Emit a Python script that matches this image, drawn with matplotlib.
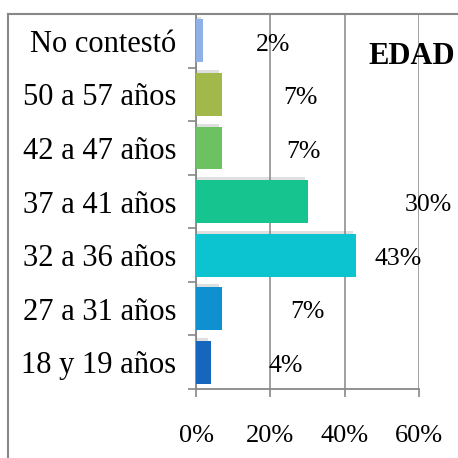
import numpy as np
import matplotlib.pyplot as plt
from matplotlib.lines import Line2D
import matplotlib.patheffects as pe

plt.rcParams['font.family'] = ['Liberation Serif', 'DejaVu Serif']

# Datos
categorias = ['18 y 19 años', '27 a 31 años', '32 a 36 años', '37 a 41 años',
              '42 a 47 años', '50 a 57 años', 'No contestó']
valores = [4, 7, 43, 30, 7, 7, 2]
etiquetas = ['4%', '7%', '43%', '30%', '7%', '7%', '2%']
# posicion de las etiquetas (en % del eje)
pos_etiqueta = [24, 30, 54.3, 62.4, 29, 28, 20.8]
colores = ['#1766be', '#0f90d0', '#0cc4d0', '#15c48e', '#6cc160', '#a3b84a', '#90b1e8']
xticks = [0, 20, 40, 60]

fig = plt.figure(figsize=(4.58, 4.58), dpi=100)
ax = fig.add_axes([196/458, 1 - 389/458, (419-196)/458, (389-14)/458])

y = np.arange(len(categorias))
barras = ax.barh(y, valores, height=0.8, color=colores, zorder=3)
for b in barras:
    b.set_path_effects([pe.SimplePatchShadow(offset=(-2, 2), shadow_rgbFace='gray', alpha=0.25),
                        pe.Normal()])

for yi, xpos, txt in zip(y, pos_etiqueta, etiquetas):
    ax.text(xpos, yi - 0.07, txt, ha='center', va='center', fontsize=18.5,
            clip_on=False, zorder=4)

ax.set_xlim(0, 60)
ax.set_ylim(-0.5, len(categorias) - 0.5)
ax.set_xticks(xticks)
ax.set_xticklabels([f'{v}%' for v in xticks], fontsize=19)
ax.set_yticks(y)
ax.set_yticklabels(categorias, fontsize=22)
ax.set_yticks(np.arange(len(categorias) + 1) - 0.5, minor=True)
ax.tick_params(axis='y', which='major', length=0, pad=14)
ax.tick_params(axis='y', which='minor', length=6, width=1.2, color='#888888')
ax.tick_params(axis='x', length=6, width=1.2, color='#888888', pad=20)

ax.grid(axis='x', color='#999999', linewidth=1.3, zorder=0)
ax.spines['right'].set_visible(False)
for s in ['left', 'bottom', 'top']:
    ax.spines[s].set_color('#888888')
    ax.spines[s].set_linewidth(1.3)

fig.text(412/458, 1 - 56/458, 'EDAD', ha='center', va='center', fontsize=22,
         fontweight='bold')

# marco exterior
top = 1 - 14/458
left = 8/458
fig.add_artist(Line2D([left, 1], [top, top], transform=fig.transFigure,
                      color='#888888', linewidth=1.5, zorder=10))
fig.add_artist(Line2D([left, left], [0, top], transform=fig.transFigure,
                      color='#888888', linewidth=1.5, zorder=10))

plt.savefig('out.png', dpi=100)
